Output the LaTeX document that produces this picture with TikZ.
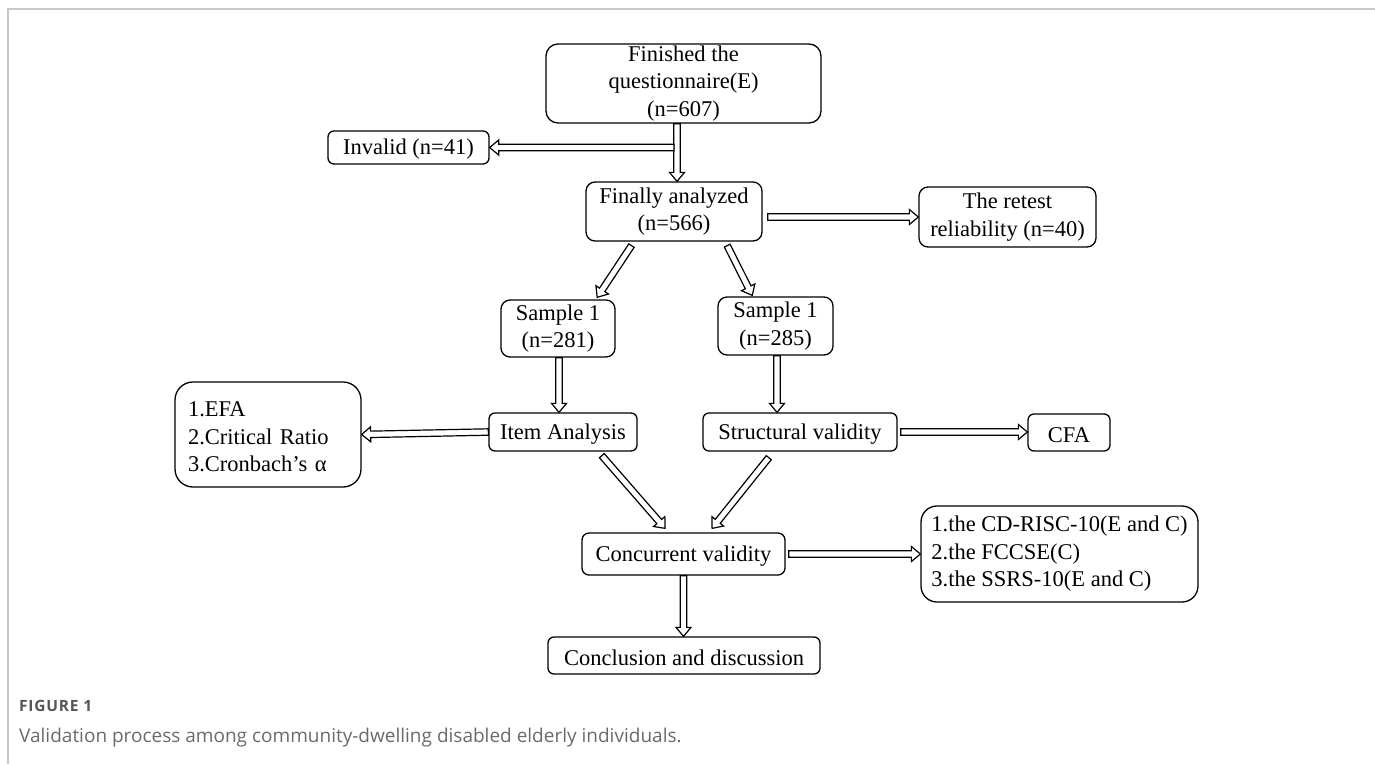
\documentclass[tikz,border=0pt]{standalone}
\usepackage{fontspec}
\newfontfamily\ser{Liberation Serif}
\newfontfamily\capf{Open Sans}
\newfontfamily\figf[LetterSpace=5]{Open Sans}
\usetikzlibrary{calc}
\definecolor{framegray}{HTML}{C8C8C8}
\definecolor{capgray}{HTML}{6A6A6A}
\definecolor{figgray}{HTML}{555555}
\tikzset{
  box/.style={draw, line width=1.3pt, rounded corners=#1, inner sep=0pt, align=center,
    font=\ser\fontsize{22.5}{27.5}\selectfont,
    execute at begin node={\rule{0pt}{19.5pt}}},
  listbox/.style={box=#1, align=left},
  arr/.style={draw, line width=1.2pt, fill=white, line join=miter},
}
\newcommand\blk[2]{%
  \coordinate (hb) at ($(#2)!9pt!(#1)$);
  \draw[arr] ($(#1)!3.2pt!90:(#2)$) -- ($(hb)!3.2pt!90:(#2)$) -- ($(hb)!7.5pt!90:(#2)$)
    -- (#2) -- ($(hb)!7.5pt!-90:(#2)$) -- ($(hb)!3.2pt!-90:(#2)$) -- ($(#1)!3.2pt!-90:(#2)$) -- cycle;}
\begin{document}
\begin{tikzpicture}[x=1pt, y=-1pt]
\useasboundingbox (0,0) rectangle (1375,764);
\draw[framegray, line width=1.5pt] (8,764) -- (8,9) -- (1375,9);

% nodes
\node[box=12pt, minimum width=275pt, minimum height=79pt] (fin) at (683.5,83.5) {Finished the\\questionnaire(E)\\(n=607)};
\node[box=6pt, minimum width=161pt, minimum height=33pt] (inv) at (408.5,147.5) {Invalid (n=41)};
\node[box=9pt, minimum width=176pt, minimum height=59pt] (fa) at (674,211.5) {Finally analyzed\\(n=566)};
\node[box=9pt, minimum width=177pt, minimum height=60pt] (rt) at (1007.5,217) {The retest\\reliability (n=40)};
\node[box=9pt, minimum width=114pt, minimum height=57pt] (s1) at (558,328.5) {Sample 1\\(n=281)};
\node[box=9pt, minimum width=115pt, minimum height=58pt] (s2) at (775.5,326) {Sample 1\\(n=285)};
\node[box=6pt, minimum width=148pt, minimum height=38pt] (item) at (563,432) {Item Analysis};
\node[box=6pt, minimum width=194pt, minimum height=38pt] (st) at (800,432) {Structural validity};
\node[listbox=18pt, inner xsep=13pt, text width=160pt, minimum height=105pt] (efa) at (268,434.5) {1.EFA\\2.Critical Ratio\\3.Cronbach’s α};
\node[box=6pt, minimum width=82pt, minimum height=37pt] (cfa) at (1069,432.5) {CFA};
\node[box=7pt, minimum width=203pt, minimum height=42pt] (conc) at (683.5,554) {Concurrent validity};
\node[listbox=16pt, minimum width=277pt, minimum height=96pt] (rb) at (1059.5,554) {1.the CD-RISC-10(E and C)\\2.the FCCSE(C)\\3.the SSRS-10(E and C)};
\node[box=6pt, minimum width=272pt, minimum height=37pt] (concl) at (684,655.5) {Conclusion and discussion};

% arrow end points
\path (fin.south) ++(-6.5,0) coordinate (a1s);
\path (fa.north) ++(3,0) coordinate (a1e);
\coordinate (a2s) at (674,147.5);
\path (fa.east |- rt.west) ++(5,0) coordinate (a3s);
\path ($(fa.south west)!0.26!(fa.south east)$) ++(0,4) coordinate (a4s);
\path ($(s1.north west)!0.84!(s1.north east)$) ++(0,-2) coordinate (a4e);
\path ($(fa.south west)!0.80!(fa.south east)$) ++(0,4) coordinate (a5s);
\path ($(s2.north west)!0.30!(s2.north east)$) ++(0,-1) coordinate (a5e);
\path (s1.south) ++(1,0) coordinate (a6s);
\coordinate (a6e) at (item.north -| a6s);
\path (s2.south) ++(1.5,0) coordinate (a7s);
\coordinate (a7e) at (st.north -| a7s);
\path ($(item.south west)!0.76!(item.south east)$) ++(0,4) coordinate (a8s);
\path ($(conc.north west)!0.41!(conc.north east)$) ++(0,-4) coordinate (a8e);
\path ($(st.south west)!0.34!(st.south east)$) ++(0,6) coordinate (a9s);
\path ($(conc.north west)!0.64!(conc.north east)$) ++(0,-4) coordinate (a9e);
\path (st.east) ++(3,0) coordinate (a10s);
\coordinate (a10e) at (cfa.west |- st.east);
\path (conc.east) ++(3,0) coordinate (a11s);
\coordinate (a11e) at (rb.west |- a11s);
\coordinate (a12e) at (concl.north -| conc.south);

% arrows
\blk{a1s}{a1e}
\blk{a2s}{inv.east}
\blk{a3s}{rt.west}
\blk{a4s}{a4e}
\blk{a5s}{a5e}
\blk{a6s}{a6e}
\blk{a7s}{a7e}
\blk{item.west}{efa.east}
\blk{a10s}{a10e}
\blk{a8s}{a8e}
\blk{a9s}{a9e}
\blk{a11s}{a11e}
\blk{conc.south}{a12e}

% caption
\node[anchor=base west, inner sep=0pt, text=figgray, font=\figf\bfseries\fontsize{15.5}{17}\selectfont] (figlbl) at (19,711) {FIGURE 1};
\node[anchor=base west, inner sep=0pt, text=capgray, font=\capf\fontsize{19}{21}\selectfont] (cap) at (19,742) {Validation process among community-dwelling disabled elderly individuals.};
\end{tikzpicture}
\end{document}
